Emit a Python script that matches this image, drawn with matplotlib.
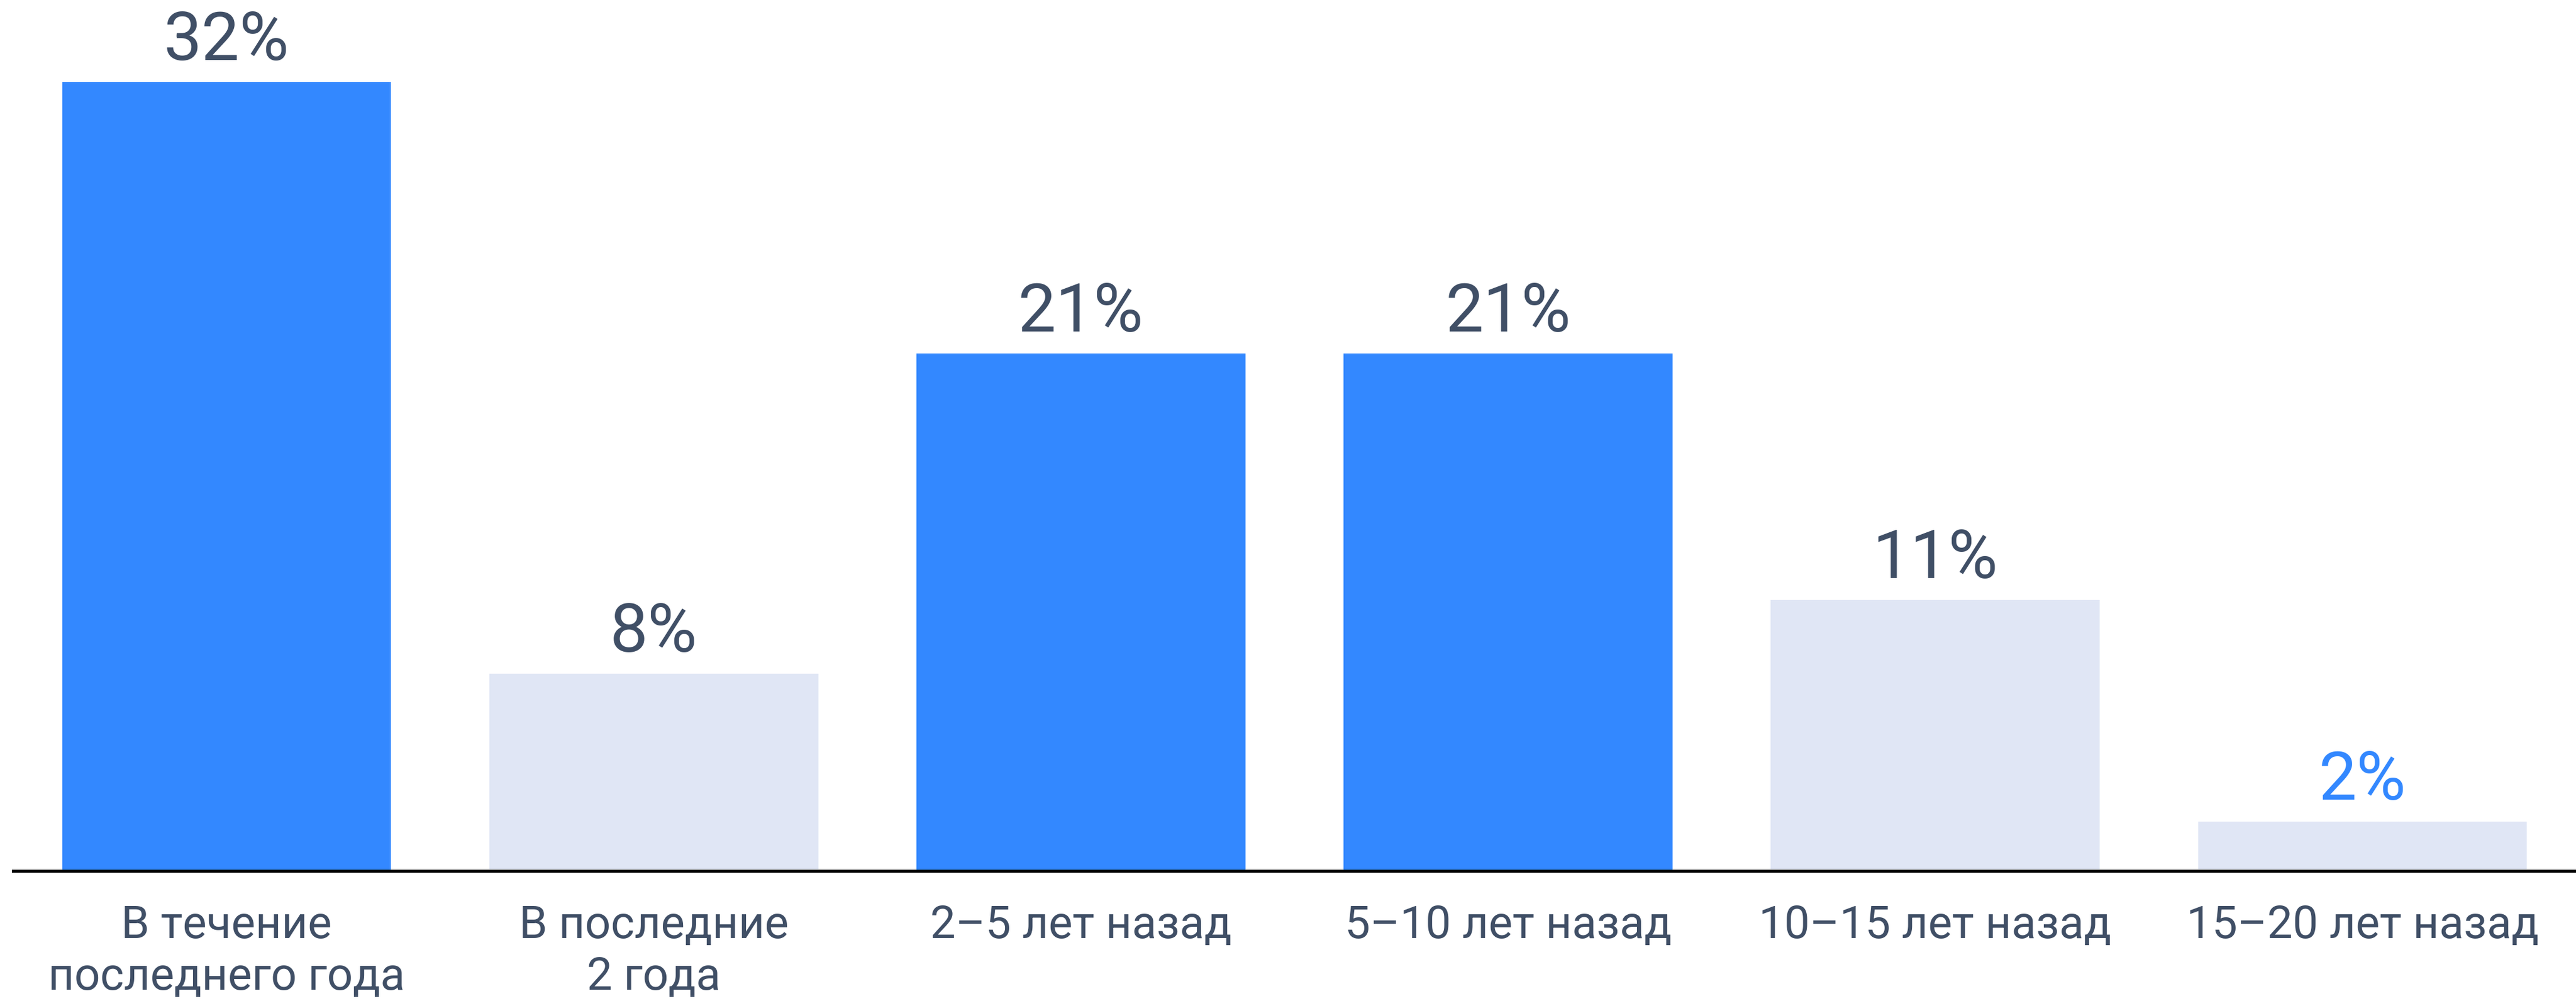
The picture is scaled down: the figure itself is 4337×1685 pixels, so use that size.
import matplotlib
matplotlib.use('Agg')
import matplotlib.pyplot as plt

plt.rcParams['font.family'] = ['Roboto', 'DejaVu Sans']

categories = ['В течение\nпоследнего года', 'В последние\n2 года', '2–5 лет назад',
              '5–10 лет назад', '10–15 лет назад', '15–20 лет назад']
values = [32, 8, 21, 21, 11, 2]
highlight = [True, False, True, True, False, False]

BLUE = '#3388FF'
LIGHT = '#E0E6F5'
TEXT = '#404F66'

fig = plt.figure(figsize=(43.37, 16.85), dpi=100)
ax = fig.add_axes([22 / 4337, 219 / 1685, 1 - 22 / 4337, 1466 / 1685])

x = range(len(values))
colors = [BLUE if h else LIGHT for h in highlight]
ax.bar(x, values, width=0.77, color=colors, zorder=2)

for i, v in enumerate(values):
    c = BLUE if i == len(values) - 1 else TEXT
    ax.annotate(f'{v}%', (i, v), xytext=(0, 10), textcoords='offset points',
                ha='center', va='bottom', fontsize=82, color=c)

ax.set_xlim(-0.5, 5.5)
ax.set_ylim(0, 35.33)
ax.set_xticks(list(x))
ax.set_xticklabels(categories, fontsize=55, color=TEXT, linespacing=1.25, va='top')
ax.tick_params(axis='x', length=0, pad=40)
ax.set_yticks([])
for s in ['top', 'right', 'left']:
    ax.spines[s].set_visible(False)
ax.spines['bottom'].set_linewidth(3.6)
ax.spines['bottom'].set_color('black')
ax.spines['bottom'].set_zorder(3)

fig.savefig('out.png', dpi=100)
plt.close()
